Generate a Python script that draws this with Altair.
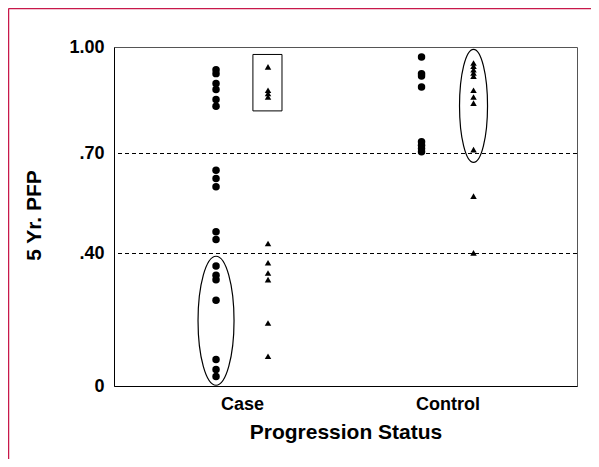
import altair as alt
import pandas as pd

# ---- data ----
groups = ["Case", "Control"]
case_circle = [0.936, 0.925, 0.897, 0.880, 0.852, 0.833, 0.650, 0.625, 0.600,
               0.465, 0.442, 0.362, 0.334, 0.321, 0.259, 0.080, 0.050, 0.029]
case_triangle = [0.944, 0.878, 0.869, 0.859, 0.430, 0.372, 0.341, 0.321, 0.190, 0.090]
control_circle = [0.972, 0.925, 0.918, 0.887, 0.733, 0.723, 0.714, 0.705]
control_triangle = [0.955, 0.946, 0.936, 0.927, 0.918, 0.878, 0.859, 0.842,
                    0.711, 0.572, 0.402]
reference_levels = [0.40, 0.70]
y_ticks = [0.0, 0.40, 0.70, 1.00]
y_tick_labels = ["0", ".40", ".70", "1.00"]

# annotations (data units)
box_x = [1.053, 1.1945]
box_y = [0.820, 0.979]
ellipse_group = ["Case", "Control"]
ellipse_marker = ["circle", "triangle"]
ellipse_center_y = [0.197, 0.834]

# ---- layout ----
group_pos = {"Case": 1.0, "Control": 2.0}
dodge = {"circle": -0.1265, "triangle": 0.1265}

rows = []
for g, m, vals in [("Case", "circle", case_circle), ("Case", "triangle", case_triangle),
                   ("Control", "circle", control_circle), ("Control", "triangle", control_triangle)]:
    for v in vals:
        rows.append({"status": g, "marker": m, "pfp": v, "x": group_pos[g] + dodge[m]})
df = pd.DataFrame(rows)

W, H = 463, 339
xscale = alt.Scale(domain=[0.377, 2.630], nice=False, zero=False)
yscale = alt.Scale(domain=y_ticks, range=[H, 206.5, 106.5, 0], nice=False, zero=False)

FONT = "Liberation Sans"

y_label_expr = " : ".join(
    f"datum.value == {v} ? '{lab}'" for v, lab in zip(y_ticks[:-1], y_tick_labels[:-1])
) + f" : '{y_tick_labels[-1]}'"
x_label_expr = f"datum.value == {group_pos[groups[0]]} ? '{groups[0]}' : '{groups[1]}'"

xaxis = alt.Axis(values=[group_pos[g] for g in groups], labelExpr=x_label_expr,
                 title="Progression Status", ticks=False, grid=False,
                 labelPadding=9, titleY=35.5, titleBaseline="top")
yaxis = alt.Axis(values=y_ticks, labelExpr=y_label_expr, title="5 Yr. PFP",
                 ticks=False, grid=False, labelPadding=10,
                 titleAngle=270, titleX=-74, titleY=168, titleAlign="center",
                 titleBaseline="alphabetic")

base = alt.Chart(df)
circles = base.transform_filter(alt.datum.marker == "circle").mark_point(
    shape="circle", filled=True, color="black", size=56, opacity=1
).encode(x=alt.X("x:Q", scale=xscale, axis=xaxis),
         y=alt.Y("pfp:Q", scale=yscale, axis=yaxis))

triangles = base.transform_filter(alt.datum.marker == "triangle").mark_point(
    shape="triangle-up", filled=True, color="black", size=42, opacity=1
).encode(x=alt.X("x:Q", scale=xscale), y=alt.Y("pfp:Q", scale=yscale))

rules = alt.Chart(pd.DataFrame({"level": reference_levels})).mark_rule(
    color="black", strokeWidth=1, strokeDash=[4, 3]
).encode(y=alt.Y("level:Q", scale=yscale))

box = alt.Chart(pd.DataFrame({"x": [box_x[0]], "x2": [box_x[1]],
                              "y": [box_y[0]], "y2": [box_y[1]]})).mark_rect(
    fillOpacity=0, stroke="black", strokeWidth=1
).encode(x=alt.X("x:Q", scale=xscale), x2="x2:Q",
         y=alt.Y("y:Q", scale=yscale), y2="y2:Q")


def ellipse_path(rx):
    k = 0.5523
    return (f"M0,-1 C{rx*k:.4f},-1 {rx:.4f},{-k} {rx:.4f},0 "
            f"C{rx:.4f},{k} {rx*k:.4f},1 0,1 "
            f"C{-rx*k:.4f},1 {-rx:.4f},{k} {-rx:.4f},0 "
            f"C{-rx:.4f},{-k} {-rx*k:.4f},-1 0,-1 Z")


ell_df = pd.DataFrame({
    "name": ellipse_group,
    "x": [group_pos[g] + dodge[m] for g, m in zip(ellipse_group, ellipse_marker)],
    "y": ellipse_center_y,
})
ellipses = alt.Chart(ell_df).mark_point(
    filled=False, stroke="black", strokeWidth=1.2, opacity=1
).encode(
    x=alt.X("x:Q", scale=xscale), y=alt.Y("y:Q", scale=yscale),
    shape=alt.Shape("name:N", scale=alt.Scale(domain=ellipse_group,
                    range=[ellipse_path(18 / 64.5), ellipse_path(14 / 56.5)]), legend=None),
    size=alt.Size("name:N", scale=alt.Scale(domain=ellipse_group,
                  range=[129 ** 2, 113 ** 2]), legend=None),
)

# outer crimson frame (decoration)
frame_df = pd.DataFrame({"a": [0]})
frame_top = alt.Chart(frame_df).mark_rule(color="#c8184a", strokeWidth=1.5).encode(
    x=alt.value(-105.5), x2=alt.value(477), y=alt.value(-38.5))
frame_left = alt.Chart(frame_df).mark_rule(color="#c8184a", strokeWidth=1.5).encode(
    x=alt.value(-105.5), y=alt.value(-38.5), y2=alt.value(412))

chart = alt.layer(rules, box, ellipses, circles, triangles, frame_top, frame_left).resolve_scale(
    shape="independent", size="independent"
).properties(
    width=W, height=H,
    autosize=alt.AutoSizeParams(type="none"),
    padding={"left": 106, "top": 39, "right": 14, "bottom": 73},
).configure_view(stroke="#555", strokeWidth=1).configure_axis(
    labelFont=FONT, titleFont=FONT, labelFontWeight="bold", titleFontWeight="bold",
    labelFontSize=18, titleFontSize=21, labelColor="black", titleColor="black",
    domainColor="black", domainWidth=1,
)

chart.save("out.html", embed_options={"renderer": "svg", "actions": False})
